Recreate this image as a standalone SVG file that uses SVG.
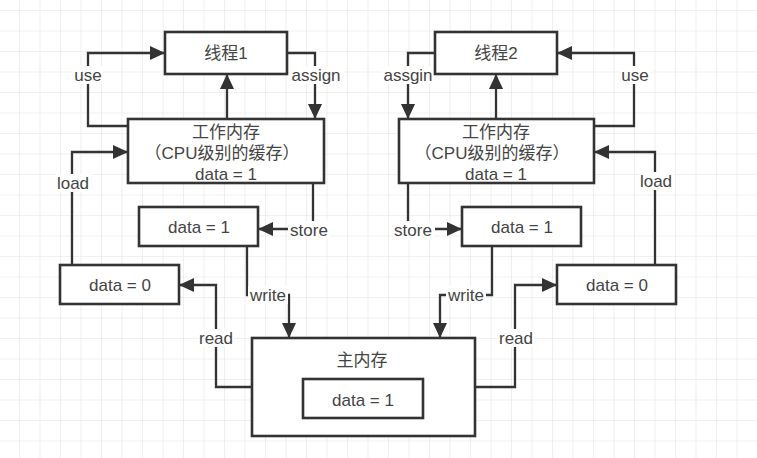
<svg xmlns="http://www.w3.org/2000/svg" width="757" height="458" viewBox="0 0 757 458">
<style>
  .box{fill:#ffffff;stroke:#333333;stroke-width:2.6}
  .t{font-family:"Liberation Sans","Noto Sans CJK SC",sans-serif;font-size:17px;fill:#444444;text-anchor:middle;dominant-baseline:central}
  .ln{fill:none;stroke:#333333;stroke-width:2.3}
  .lbg{fill:#ffffff}
</style>
<defs>
  <pattern id="grid" patternUnits="userSpaceOnUse" x="19" y="10" width="20.5" height="20.5">
    <path d="M0,0 H20.5 M0,0 V20.5" fill="none" stroke="#e4e4e4" stroke-width="1.2"/>
  </pattern>
  <marker id="ah" markerUnits="userSpaceOnUse" markerWidth="16" markerHeight="14" refX="15" refY="7" orient="auto">
    <path d="M0,0 L15,7 L0,14 z" fill="#333333"/>
  </marker>
</defs>
<rect width="757" height="458" fill="#ffffff"/>
<rect width="757" height="458" fill="url(#grid)"/>

<g id="connectors">
  <path class="ln" d="M128,126 H88 V53 H165" marker-end="url(#ah)"/>
  <path class="ln" d="M287,53 H315 V119" marker-end="url(#ah)"/>
  <path class="ln" d="M227,119 V74" marker-end="url(#ah)"/>
  <path class="ln" d="M72,265 V152 H128" marker-end="url(#ah)"/>
  <path class="ln" d="M313,183 V229 H258" marker-end="url(#ah)"/>
  <path class="ln" d="M247,246 V295 H289 V338" marker-end="url(#ah)"/>
  <path class="ln" d="M252,387 H216 V285 H179" marker-end="url(#ah)"/>

  <path class="ln" d="M435,53 H408 V119" marker-end="url(#ah)"/>
  <path class="ln" d="M496,119 V74" marker-end="url(#ah)"/>
  <path class="ln" d="M594,126 H634 V53 H557" marker-end="url(#ah)"/>
  <path class="ln" d="M655,265 V152 H594" marker-end="url(#ah)"/>
  <path class="ln" d="M408,183 V229 H462" marker-end="url(#ah)"/>
  <path class="ln" d="M492,246 V295 H440 V338" marker-end="url(#ah)"/>
  <path class="ln" d="M475,387 H515 V285 H557" marker-end="url(#ah)"/>

  <rect class="lbg" x="73" y="66" width="31" height="18"/>
  <text class="t" x="88" y="75">use</text>
  <rect class="lbg" x="289" y="66" width="54" height="18"/>
  <text class="t" x="316" y="75">assign</text>
  <rect class="lbg" x="56" y="174" width="35" height="18"/>
  <text class="t" x="73" y="183">load</text>
  <rect class="lbg" x="288" y="221" width="43" height="18"/>
  <text class="t" x="309" y="230">store</text>
  <rect class="lbg" x="248" y="286" width="40" height="18"/>
  <text class="t" x="268" y="295">write</text>
  <rect class="lbg" x="199" y="329" width="35" height="18"/>
  <text class="t" x="216" y="338">read</text>

  <rect class="lbg" x="382" y="66" width="53" height="18"/>
  <text class="t" x="408" y="75">assgin</text>
  <rect class="lbg" x="620" y="66" width="31" height="18"/>
  <text class="t" x="635" y="75">use</text>
  <rect class="lbg" x="639" y="172" width="35" height="18"/>
  <text class="t" x="656" y="181">load</text>
  <rect class="lbg" x="393" y="221" width="42" height="18"/>
  <text class="t" x="413" y="230">store</text>
  <rect class="lbg" x="446" y="286" width="40" height="18"/>
  <text class="t" x="466" y="295">write</text>
  <rect class="lbg" x="499" y="329" width="35" height="18"/>
  <text class="t" x="516" y="338">read</text>
</g>

<g id="thread1">
  <rect class="box" x="165" y="32" width="122" height="42"/>
  <text class="t" x="226" y="53">线程1</text>
</g>
<g id="workmem1">
  <rect class="box" x="128" y="119" width="196" height="64"/>
  <text class="t" x="226" y="132">工作内存</text>
  <text class="t" x="222" y="153">（CPU级别的缓存）</text>
  <text class="t" x="226" y="174">data = 1</text>
</g>
<g id="data1-left">
  <rect class="box" x="139" y="207" width="119" height="39"/>
  <text class="t" x="199" y="227">data = 1</text>
</g>
<g id="data0-left">
  <rect class="box" x="60" y="265" width="119" height="39"/>
  <text class="t" x="120" y="285">data = 0</text>
</g>

<g id="thread2">
  <rect class="box" x="435" y="32" width="122" height="42"/>
  <text class="t" x="496" y="53">线程2</text>
</g>
<g id="workmem2">
  <rect class="box" x="399" y="119" width="195" height="64"/>
  <text class="t" x="496" y="132">工作内存</text>
  <text class="t" x="492" y="153">（CPU级别的缓存）</text>
  <text class="t" x="496" y="174">data = 1</text>
</g>
<g id="data1-right">
  <rect class="box" x="462" y="207" width="119" height="39"/>
  <text class="t" x="522" y="227">data = 1</text>
</g>
<g id="data0-right">
  <rect class="box" x="557" y="265" width="119" height="39"/>
  <text class="t" x="617" y="285">data = 0</text>
</g>

<g id="mainmem">
  <rect class="box" x="252" y="338" width="223" height="98"/>
  <text class="t" x="362" y="360">主内存</text>
</g>
<g id="mainmem-data">
  <rect class="box" x="303" y="379" width="120" height="39"/>
  <text class="t" x="363" y="400">data = 1</text>
</g>
</svg>
